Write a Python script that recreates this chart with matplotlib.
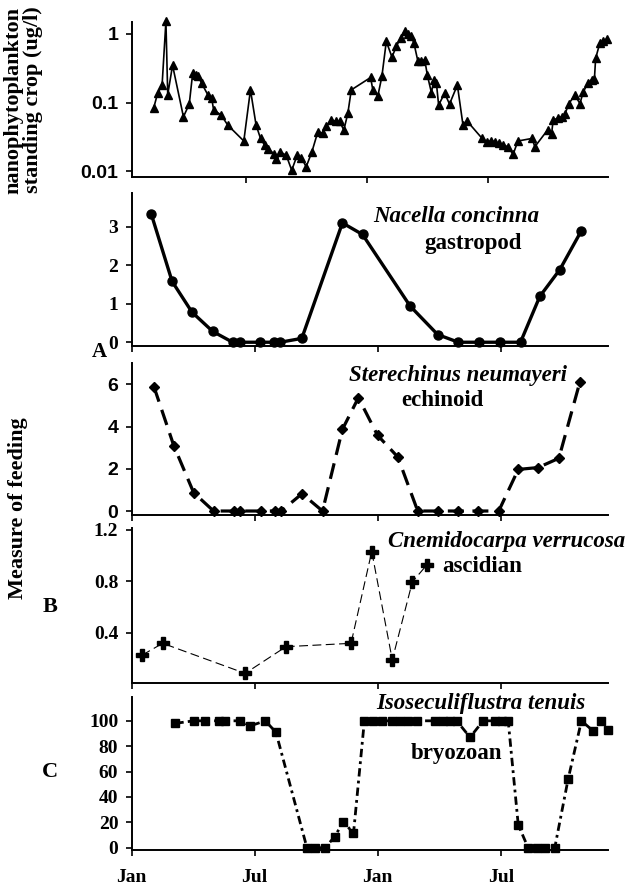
import numpy as np
import matplotlib
matplotlib.use("Agg")
import matplotlib.pyplot as plt
from matplotlib.ticker import FixedLocator, NullLocator, FixedFormatter

# months since Jan of first year
nano_t = [1.40, 1.60, 1.82, 2.01, 2.10, 2.34, 2.88, 3.17, 3.34, 3.50,
          3.62, 3.79, 4.09, 4.28, 4.38, 4.75, 5.08, 5.88, 6.21, 6.49,
          6.71, 6.91, 7.10, 7.37, 7.49, 7.70, 7.99, 8.26, 8.53, 8.73,
          8.98, 9.26, 9.56, 9.81, 9.98, 10.22, 10.47, 10.64, 10.85, 11.05,
          11.22, 12.18, 12.29, 12.54, 12.74, 12.96, 13.24, 13.46, 13.67, 13.87,
          14.04, 14.20, 14.33, 14.53, 14.70, 14.87, 15.00, 15.20, 15.33, 15.45,
          15.56, 15.86, 16.10, 16.49, 16.77, 16.99, 17.72, 17.94, 18.18, 18.35,
          18.55, 18.76, 19.00, 19.26, 19.50, 20.20, 20.34, 20.97, 21.17, 21.25,
          21.47, 21.67, 21.83, 22.03, 22.33, 22.58, 22.74, 22.96, 23.16, 23.30,
          23.36, 23.57, 23.74, 23.94]
nano_v = [0.083, 0.137, 0.18, 1.53, 0.13, 0.35, 0.062, 0.095, 0.27, 0.25,
          0.24, 0.19, 0.13, 0.118, 0.078, 0.066, 0.047, 0.0275, 0.153, 0.047,
          0.030, 0.024, 0.021, 0.018, 0.015, 0.019, 0.017, 0.0103, 0.017, 0.0157,
          0.0116, 0.019, 0.0376, 0.0356, 0.045, 0.056, 0.053, 0.053, 0.0397, 0.07,
          0.153, 0.232, 0.153, 0.125, 0.24, 0.78, 0.46, 0.66, 0.877, 1.1,
          1.0, 0.92, 0.74, 0.4, 0.4, 0.42, 0.25, 0.14, 0.215, 0.19,
          0.092, 0.137, 0.095, 0.18, 0.047, 0.053, 0.030, 0.027, 0.0275, 0.027,
          0.0254, 0.024, 0.0227, 0.0176, 0.0275, 0.030, 0.0227, 0.0397, 0.0345, 0.0555,
          0.059, 0.062, 0.067, 0.0967, 0.128, 0.0967, 0.141, 0.19, 0.215, 0.22,
          0.44, 0.74, 0.80, 0.85]

nacella_t = [0.97, 1.98, 2.95, 3.96, 4.93, 5.30, 6.28, 6.93, 7.25, 8.30, 10.28,
             11.26, 13.58, 14.92, 15.93, 16.95, 17.96, 18.96, 19.90, 20.88, 21.93]
nacella_v = [3.32, 1.58, 0.78, 0.28, 0, 0, 0, 0, 0, 0.1, 3.1,
             2.8, 0.94, 0.2, 0, 0, 0, 0, 1.19, 1.89, 2.9]

sterech_t = [1.09, 2.06, 3.03, 4.0, 4.98, 5.3, 6.33, 6.97, 7.3, 8.31, 9.31, 10.28,
             11.06, 11.99, 12.98, 13.95, 14.92, 15.9, 16.9, 17.9, 18.85, 19.82, 20.83, 21.85]
sterech_v = [5.9, 3.1, 0.87, 0, 0, 0, 0, 0, 0, 0.82, 0, 3.87,
             5.37, 3.59, 2.56, 0, 0, 0, 0, 0, 1.97, 2.06, 2.5, 6.1]

cnemi_t = [0.52, 1.52, 5.54, 7.53, 10.7, 11.71, 12.71, 13.69, 14.39]
cnemi_v = [0.227, 0.318, 0.085, 0.292, 0.318, 1.03, 0.19, 0.795, 0.925]

iso_t = [2.14, 3.03, 3.57, 4.28, 4.57, 5.30, 5.79, 6.52, 7.04, 8.55, 8.96, 9.44,
         9.90, 10.33, 10.82, 11.35, 11.79, 12.20, 12.68, 13.09, 13.50, 13.90, 14.79,
         15.20, 15.52, 15.85, 16.50, 17.14, 17.71, 18.04, 18.36, 18.85, 19.33, 19.74,
         20.15, 20.63, 21.28, 21.93, 22.50, 22.90, 23.20]
iso_v = [98, 100, 100, 100, 100, 100, 96, 100, 91, 0, 0, 0,
         8.7, 20.5, 11.3, 100, 100, 100, 100, 100, 100, 100, 100,
         100, 100, 100, 87, 100, 100, 100, 100, 18, 0, 0,
         0, 0, 54, 100, 92, 100, 93]

month_ticks = [0, 6, 12, 18]
month_labels = ["Jan", "Jul", "Jan", "Jul"]

SERIF = "Liberation Serif"
SANS = "Liberation Sans"

fig = plt.figure(figsize=(6.33, 8.89), dpi=100)
W, H = 633.0, 889.0


def make_ax(top, bottom, left=131.5, right=607.5):
    return fig.add_axes([left / W, 1 - bottom / H, (right - left) / W, (bottom - top) / H])


def style(ax, tickfont, fs=14):
    for s in ["top", "right"]:
        ax.spines[s].set_visible(False)
    for s in ["left", "bottom"]:
        ax.spines[s].set_linewidth(1.4)
    ax.tick_params(axis="both", direction="out", length=4.5, width=1.2, pad=5)
    for lab in ax.get_yticklabels() + ax.get_xticklabels():
        lab.set_fontfamily(tickfont)
        lab.set_fontweight("bold")
        lab.set_fontsize(fs)


# annotations in pixel coords from top-left
def ptext(x, y, s, **kw):
    fig.text(x / W, 1 - y / H, s, fontfamily=SERIF, fontweight="bold", **kw)


# nanophytoplankton
ax1 = make_ax(21.7, 176.7)
ax1.plot(nano_t, nano_v, "-", color="black", lw=1.2, marker="^", ms=6, clip_on=False)
ax1.set_yscale("log")
ax1.set_ylim(0.0083, 1.51)
ax1.set_xlim(0.3, 23.95)
ax1.yaxis.set_major_locator(FixedLocator([0.01, 0.1, 1]))
ax1.yaxis.set_major_formatter(FixedFormatter(["0.01", "0.1", "1"]))
ax1.yaxis.set_minor_locator(NullLocator())
ax1.set_xticks([6, 12, 18])
ax1.set_xticklabels([])
style(ax1, SANS)

# Nacella
ax2 = make_ax(193.3, 345.7)
ax2.plot(nacella_t, nacella_v, "-", color="black", lw=2.4, marker="o", ms=6.5, clip_on=False)
ax2.set_ylim(-0.09, 3.87)
ax2.set_yticks([0, 1, 2, 3])
ax2.set_xlim(0, 23.2)
ax2.set_xticks(month_ticks)
ax2.set_xticklabels([])
style(ax2, SERIF)
ptext(456, 216, "Nacella concinna", fontsize=16.5, fontstyle="italic", ha="center", va="center")
ptext(473, 243, "gastropod", fontsize=16.5, ha="center", va="center")

# Sterechinus
ax3 = make_ax(363.3, 514.7)
ax3.plot(sterech_t, sterech_v, color="black", lw=2.3, ls=(0, (5, 2.7)), marker="D", ms=5.5,
         clip_on=False)
ax3.set_ylim(-0.175, 7.0)
ax3.set_yticks([0, 2, 4, 6])
ax3.set_xlim(0, 23.2)
ax3.set_xticks(month_ticks)
ax3.set_xticklabels([])
style(ax3, SANS)
ptext(458, 375, "Sterechinus neumayeri", fontsize=16.5, fontstyle="italic", ha="center", va="center")
ptext(442, 400, "echinoid", fontsize=16.5, ha="center", va="center")

# Cnemidocarpa
ax4 = make_ax(528.3, 683.3)
ax4.plot(cnemi_t, cnemi_v, color="black", lw=0.8, ls=(0, (8, 4)), marker="P", ms=9,
         clip_on=False)
ax4.set_ylim(0.008, 1.21)
ax4.set_yticks([0.4, 0.8, 1.2])
ax4.set_yticklabels(["0.4", "0.8", "1.2"])
ax4.set_xlim(0, 23.2)
ax4.set_xticks(month_ticks)
ax4.set_xticklabels([])
style(ax4, SERIF)
ptext(388, 542, "Cnemidocarpa verrucosa", fontsize=16.5, fontstyle="italic", ha="left", va="center")
ptext(482, 567, "ascidian", fontsize=16.5, ha="center", va="center")

# Isoseculiflustra
ax5 = make_ax(696.7, 850)
ax5.plot(iso_t, iso_v, color="black", lw=2.0, ls=(0, (3, 1.5, 1, 1.5)), marker="s", ms=5.5,
         clip_on=False)
ax5.set_ylim(-1.8, 119)
ax5.set_yticks([0, 20, 40, 60, 80, 100])
ax5.set_xlim(0, 23.2)
ax5.set_xticks(month_ticks)
ax5.set_xticklabels(month_labels)
style(ax5, SERIF)
ax5.tick_params(axis="x", pad=9)
ptext(481, 703, "Isoseculiflustra tenuis", fontsize=16.5, fontstyle="italic", ha="center", va="center")
ptext(456, 753, "bryozoan", fontsize=16.5, ha="center", va="center")

ptext(99, 352, "A", fontsize=15, ha="center", va="center")
ptext(50, 607, "B", fontsize=16, ha="center", va="center")
ptext(50, 772, "C", fontsize=16, ha="center", va="center")

ptext(23, 100, "nanophytoplankton\nstanding crop (ug/l)", fontsize=16, rotation=90,
      ha="center", va="center", multialignment="center", linespacing=1.0)
ptext(18, 508, "Measure of feeding", fontsize=16, rotation=90, ha="center", va="center")

fig.savefig("out.png", dpi=100)
